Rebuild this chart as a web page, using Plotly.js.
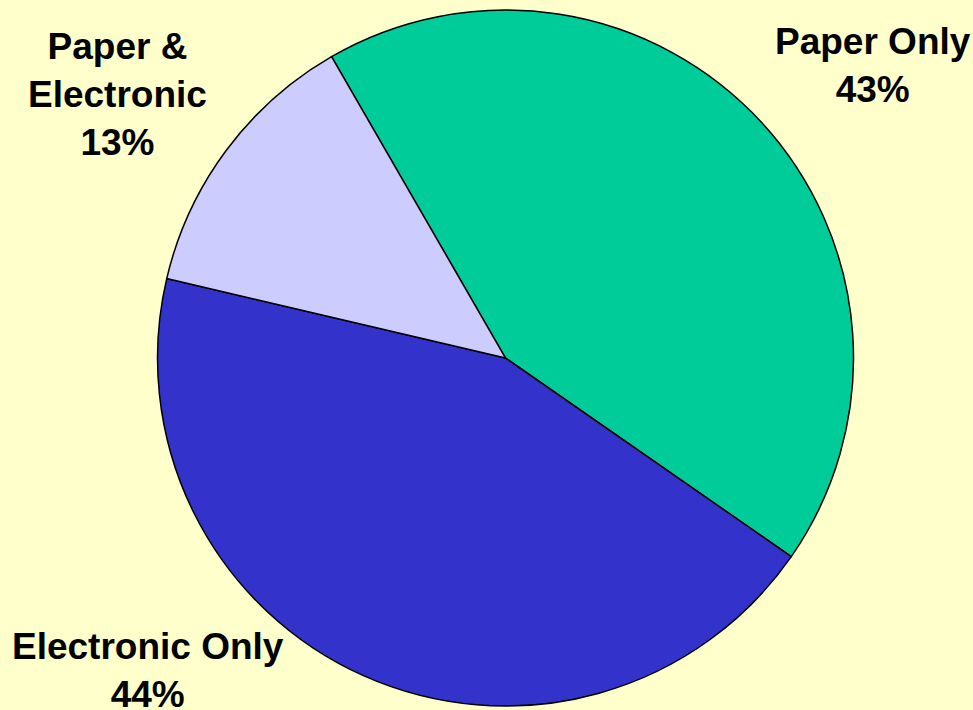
<!DOCTYPE html>
<html>
<head>
<meta charset="utf-8">
<script src="https://cdn.plot.ly/plotly-3.0.1.min.js"></script>
<style>
  html, body { margin: 0; padding: 0; background: #FFFFCC; }
  #chart { width: 973px; height: 710px; }
</style>
</head>
<body>
<div id="chart"></div>
<script>
// Data
const categories = ["Paper Only", "Electronic Only", "Paper & Electronic"];
const displayLabels = ["Paper Only", "Electronic Only", "Paper &<br>Electronic"];
const values = [43, 44, 13];
const sliceColors = ["#00CC99", "#3333CC", "#CCCCFF"];

// Label placement (layout only)
const labelX = [0.897, 0.152, 0.121];
const labelY = [0.908, 0.055, 0.867];

const total = values.reduce((a, b) => a + b, 0);

const trace = {
  type: "pie",
  labels: categories,
  values: values,
  sort: false,
  direction: "clockwise",
  rotation: -30,
  marker: { colors: sliceColors, line: { color: "#000000", width: 1.5 } },
  textinfo: "none",
  hoverinfo: "skip",
  showlegend: false,
  domain: { x: [0.1619, 0.8772], y: [0.0056, 0.9859] }
};

const annotations = categories.map((c, i) => ({
  xref: "paper", yref: "paper",
  x: labelX[i], y: labelY[i],
  xanchor: "center", yanchor: "middle",
  showarrow: false,
  align: "center",
  text: "<b>" + displayLabels[i] + "<br>" + Math.round(values[i] / total * 100) + "%</b>",
  font: { family: "Liberation Sans, Arial, sans-serif", size: 37, color: "#000000" }
}));

const layout = {
  width: 973, height: 710,
  margin: { l: 0, r: 0, t: 0, b: 0 },
  paper_bgcolor: "#FFFFCC",
  plot_bgcolor: "#FFFFCC",
  annotations: annotations
};

Plotly.newPlot("chart", [trace], layout, { displayModeBar: false, staticPlot: true });
</script>
</body>
</html>
